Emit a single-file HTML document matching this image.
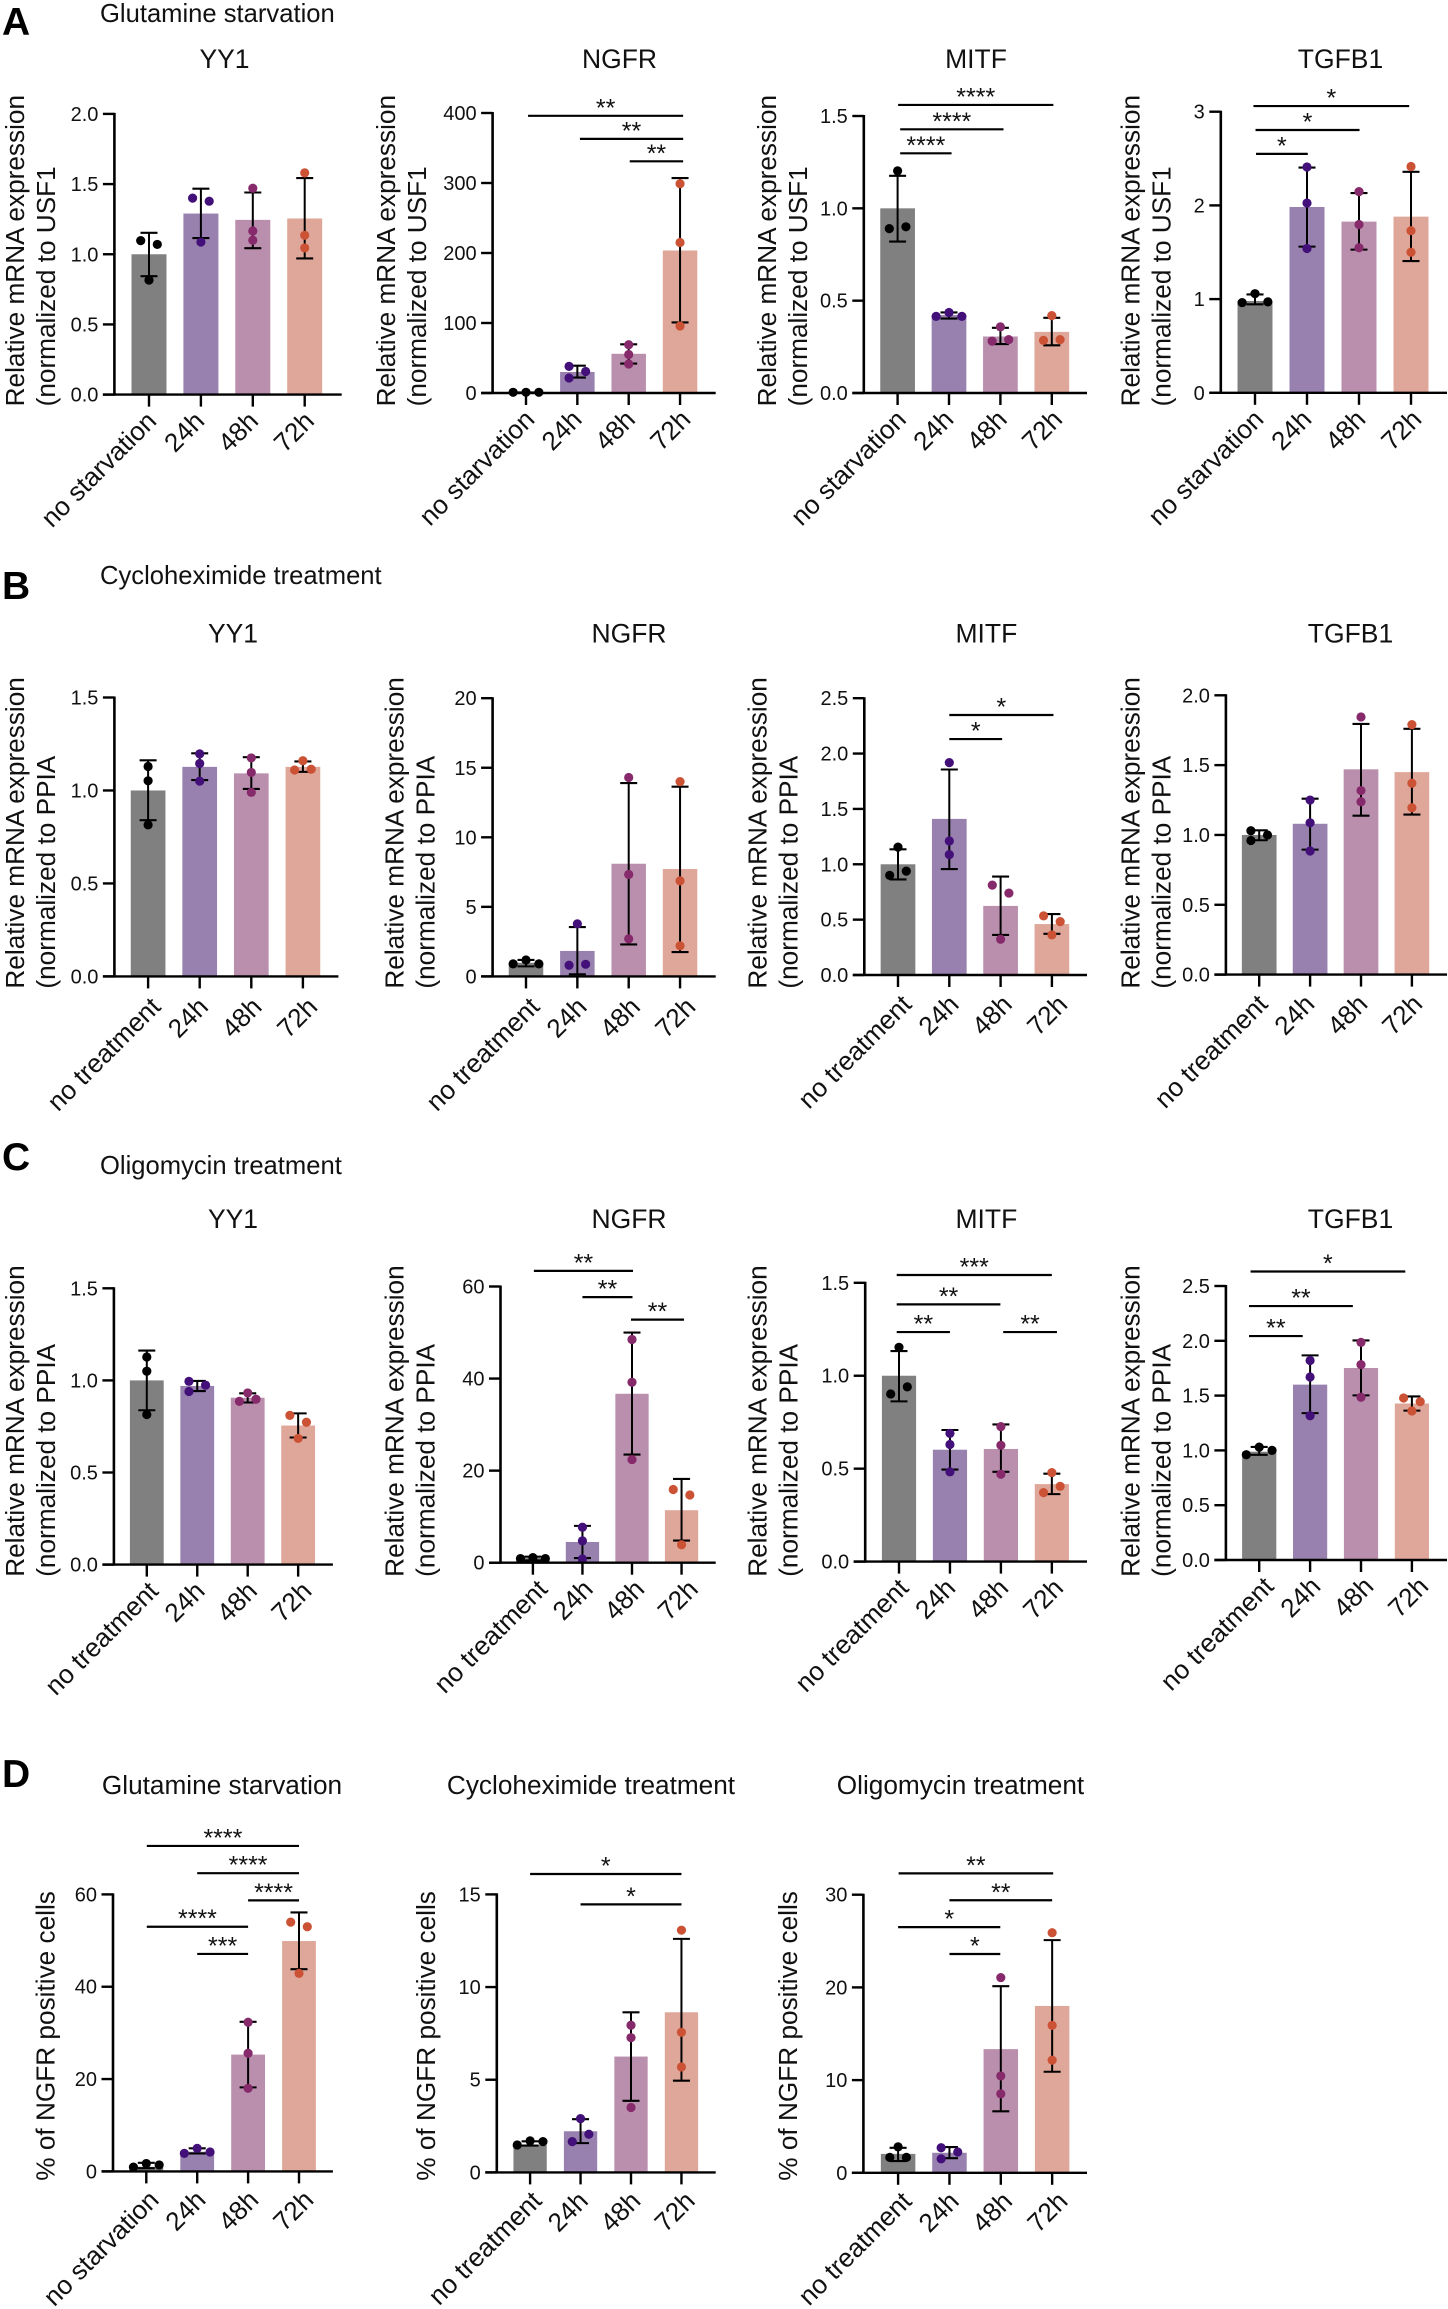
<!DOCTYPE html>
<html lang="en">
<head>
<meta charset="utf-8">
<title>Relative mRNA expression under metabolic stress</title>
<style>
html,body{margin:0;padding:0;background:#fff}
svg{display:block}
text{font-family:"Liberation Sans",Arial,sans-serif;fill:#111}
.letter{font-weight:bold;font-size:39px;fill:#000}
.section{font-size:25.6px}
</style>
</head>
<body>
<svg id="figure" xmlns="http://www.w3.org/2000/svg" width="1448" height="2309" viewBox="0 0 1448 2309">
<rect width="1448" height="2309" fill="#fff"/>
<text class="letter" x="2" y="35">A</text>
<text class="section" x="100" y="22">Glutamine starvation</text>
<text class="letter" x="2" y="599">B</text>
<text class="section" x="100" y="584">Cycloheximide treatment</text>
<text class="letter" x="2" y="1170">C</text>
<text class="section" x="100" y="1174">Oligomycin treatment</text>
<text class="letter" x="2" y="1787">D</text>
</svg>
<script>
// ---------- category labels ----------
const starvationCats = ['no starvation', '24h', '48h', '72h'];
const treatmentCats = ['no treatment', '24h', '48h', '72h'];

// ---------- A: glutamine starvation ----------
const aYY1Ticks = ['0.0', '0.5', '1.0', '1.5', '2.0'];
const aYY1Means = [1.0, 1.29, 1.245, 1.255];
const aYY1Low = [0.844, 1.115, 1.043, 0.97];
const aYY1High = [1.153, 1.467, 1.44, 1.543];
const aYY1Points = [[1.097, 0.816, 1.07], [1.40, 1.087, 1.378], [1.47, 1.166, 1.10], [1.58, 1.135, 1.045]];
const aYY1Sig = [];

const aNGFRTicks = ['0', '100', '200', '300', '400'];
const aNGFRMeans = [0.6, 30, 56, 203.6];
const aNGFRLow = [0.3, 22, 42, 100.8];
const aNGFRHigh = [0.9, 39, 69.6, 307];
const aNGFRPoints = [[1, 1, 1], [38, 21.5, 30.7], [69, 55, 41.4], [299, 215, 95.7]];
const aNGFRSig = [[0.04, 3.06, 396, '**'], [1.05, 3.06, 363, '**'], [2.02, 3.06, 331, '**']];

const aMITFTicks = ['0.0', '0.5', '1.0', '1.5'];
const aMITFMeans = [1.0, 0.422, 0.306, 0.331];
const aMITFLow = [0.82, 0.403, 0.265, 0.258];
const aMITFHigh = [1.176, 0.436, 0.353, 0.407];
const aMITFPoints = [[0.89, 1.203, 0.90], [0.415, 0.436, 0.415], [0.281, 0.358, 0.289], [0.285, 0.419, 0.289]];
const aMITFSig = [[0.01, 3.03, 1.56, '****'], [0.05, 2.06, 1.428, '****'], [0.05, 1.05, 1.298, '****']];

const aTGFB1Ticks = ['0', '1', '2', '3'];
const aTGFB1Means = [0.98, 1.983, 1.827, 1.88];
const aTGFB1Low = [0.944, 1.56, 1.528, 1.406];
const aTGFB1High = [1.05, 2.404, 2.132, 2.358];
const aTGFB1Points = [[0.963, 1.058, 0.97], [2.41, 2.025, 1.54], [2.147, 1.796, 1.548], [2.415, 1.73, 1.5]];
const aTGFB1Sig = [[-0.03, 2.965, 3.06, '*'], [0.01, 2.01, 2.805, '*'], [0.02, 1.015, 2.55, '*']];

// ---------- B: cycloheximide treatment ----------
const bYY1Ticks = ['0.0', '0.5', '1.0', '1.5'];
const bYY1Means = [1.0, 1.127, 1.092, 1.127];
const bYY1Low = [0.84, 1.056, 1.008, 1.1];
const bYY1High = [1.162, 1.2, 1.179, 1.156];
const bYY1Points = [[1.129, 1.052, 0.815], [1.197, 1.145, 1.05], [1.175, 1.097, 0.99], [1.11, 1.16, 1.114]];
const bYY1Sig = [];

const bNGFRTicks = ['0', '5', '10', '15', '20'];
const bNGFRMeans = [0.98, 1.83, 8.1, 7.72];
const bNGFRLow = [0.72, 0.15, 2.3, 1.75];
const bNGFRHigh = [1.18, 3.55, 13.9, 13.64];
const bNGFRPoints = [[0.9, 1.18, 0.9], [0.8, 3.78, 0.87], [14.3, 7.33, 2.7], [14.0, 6.87, 2.2]];
const bNGFRSig = [];

const bMITFTicks = ['0.0', '0.5', '1.0', '1.5', '2.0', '2.5'];
const bMITFMeans = [1.0, 1.41, 0.624, 0.46];
const bMITFLow = [0.863, 0.957, 0.362, 0.372];
const bMITFHigh = [1.135, 1.856, 0.889, 0.55];
const bMITFPoints = [[0.9, 1.155, 0.938], [1.918, 1.21, 1.087], [0.812, 0.323, 0.74], [0.534, 0.362, 0.482]];
const bMITFSig = [[1.0, 3.03, 2.348, '*'], [1.0, 2.03, 2.131, '*']];

const bTGFB1Ticks = ['0.0', '0.5', '1.0', '1.5', '2.0'];
const bTGFB1Means = [1.0, 1.08, 1.47, 1.45];
const bTGFB1Low = [0.962, 0.895, 1.138, 1.146];
const bTGFB1High = [1.033, 1.26, 1.795, 1.76];
const bTGFB1Points = [[1.03, 0.96, 1.0], [1.25, 1.087, 0.885], [1.845, 1.318, 1.238], [1.79, 1.37, 1.195]];
const bTGFB1Sig = [];

// ---------- C: oligomycin treatment ----------
const cYY1Ticks = ['0.0', '0.5', '1.0', '1.5'];
const cYY1Means = [1.0, 0.97, 0.906, 0.755];
const cYY1Low = [0.838, 0.942, 0.88, 0.69];
const cYY1High = [1.162, 0.997, 0.93, 0.821];
const cYY1Points = [[1.127, 1.05, 0.815], [0.995, 0.94, 0.974], [0.886, 0.932, 0.898], [0.81, 0.685, 0.773]];
const cYY1Sig = [];

const cNGFRTicks = ['0', '20', '40', '60'];
const cNGFRMeans = [1.0, 4.5, 36.7, 11.4];
const cNGFRLow = [0.5, 1.0, 23.5, 4.8];
const cNGFRHigh = [1.3, 8.0, 50.0, 18.2];
const cNGFRPoints = [[0.9, 1.1, 0.9], [7.7, 4.75, 0.8], [48.5, 39.2, 22.4], [15.9, 3.9, 14.7]];
const cNGFRSig = [[0.02, 2.02, 63.4, '**'], [1.0, 2.01, 57.7, '**'], [1.98, 3.05, 52.8, '**']];

const cMITFTicks = ['0.0', '0.5', '1.0', '1.5'];
const cMITFMeans = [1.0, 0.602, 0.606, 0.417];
const cMITFLow = [0.862, 0.495, 0.483, 0.363];
const cMITFHigh = [1.133, 0.708, 0.738, 0.473];
const cMITFPoints = [[0.902, 1.153, 0.94], [0.69, 0.63, 0.483], [0.726, 0.626, 0.47], [0.371, 0.479, 0.405]];
const cMITFSig = [[-0.045, 3.0, 1.542, '***'], [-0.045, 1.99, 1.384, '**'], [-0.045, 1.0, 1.235, '**'], [2.045, 3.1, 1.235, '**']];

const cTGFB1Ticks = ['0.0', '0.5', '1.0', '1.5', '2.0', '2.5'];
const cTGFB1Means = [0.988, 1.6, 1.752, 1.428];
const cTGFB1Low = [0.96, 1.34, 1.502, 1.363];
const cTGFB1High = [1.032, 1.867, 2.003, 1.492];
const cTGFB1Points = [[0.96, 1.03, 1.0], [1.82, 1.67, 1.316], [1.986, 1.783, 1.485], [1.478, 1.36, 1.445]];
const cTGFB1Sig = [[-0.17, 2.87, 2.632, '*'], [-0.2, 1.84, 2.317, '**'], [-0.2, 0.855, 2.043, '**']];

// ---------- D: % NGFR positive cells ----------
const dGlnTicks = ['0', '20', '40', '60'];
const dGlnMeans = [1.0, 4.26, 25.3, 49.9];
const dGlnLow = [0.7, 3.9, 18.2, 43.8];
const dGlnHigh = [1.86, 5.0, 32.4, 56.1];
const dGlnPoints = [[0.93, 1.7, 1.4], [3.9, 5.0, 4.2], [32.3, 25.6, 18.0], [54.0, 42.9, 53.0]];
const dGlnSig = [[0.01, 3.0, 70.5, '****'], [1.0, 3.0, 64.6, '****'], [2.0, 3.0, 58.7, '****'], [0.01, 2.0, 53.0, '****'], [1.0, 2.0, 47.1, '***']];

const dCHXTicks = ['0', '5', '10', '15'];
const dCHXMeans = [1.48, 2.22, 6.25, 8.64];
const dCHXLow = [1.45, 1.58, 3.86, 4.95];
const dCHXHigh = [1.68, 2.87, 8.64, 12.6];
const dCHXPoints = [[1.48, 1.7, 1.66], [1.66, 2.9, 2.06], [7.94, 7.27, 3.5], [13.07, 7.56, 5.69]];
const dCHXSig = [[0.0, 3.0, 16.1, '*'], [1.0, 3.0, 14.46, '*']];

const dOligoTicks = ['0', '10', '20', '30'];
const dOligoMeans = [2.04, 2.16, 13.34, 18.0];
const dOligoLow = [1.27, 1.58, 6.63, 10.9];
const dOligoHigh = [2.7, 2.78, 20.13, 25.1];
const dOligoPoints = [[1.66, 2.8, 1.66], [2.7, 1.5, 2.24], [21.06, 10.45, 8.52], [25.9, 15.9, 12.15]];
const dOligoSig = [[0.01, 3.02, 32.3, '**'], [1.0, 3.0, 29.4, '**'], [0.0, 1.99, 26.5, '*'], [1.0, 1.99, 23.6, '*']];

// ---------- styling and layout (not data) ----------
const barFills = ['#808080', '#9881ae', '#ba8fae', '#dfa79a'];
const dotFills = ['#000000', '#43107a', '#862a6c', '#cc5236'];
const labelShift = [0, -4, -2, 2];
const SVG_NS = 'http://www.w3.org/2000/svg';
const JITTER = 8.3;
const USF = ['Relative mRNA expression', '(normalized to USF1'];
const PPIA = ['Relative mRNA expression', '(normalized to PPIA'];
const POS = ['% of NGFR positive cells'];

const panels = [
 {key:'a-yy1',title:'YY1',tx:224.5,ty:68,ax:114.4,y0:394.6,top:113.9,end:341.7,c0:149,step:51.9,bw:35,lb:24,lbot:406.4,lab:USF,cats:starvationCats,ldx:9,ldy:28,ticks:aYY1Ticks,means:aYY1Means,low:aYY1Low,high:aYY1High,pts:aYY1Points,sig:aYY1Sig,
  jit:[[-1,0,1],[-1,0,1],[0,0,0],[0,0,0]]},
 {key:'a-ngfr',title:'NGFR',tx:619.5,ty:68,ax:492.6,y0:393,top:113,end:715.7,c0:526,step:51.35,bw:34.5,lb:395,lbot:406.4,lab:USF,cats:starvationCats,ldx:10,ldy:28,ticks:aNGFRTicks,means:aNGFRMeans,low:aNGFRLow,high:aNGFRHigh,pts:aNGFRPoints,sig:aNGFRSig,
  jit:[[-1.55,0,1.55],[-1,-1,1],[0,0,0],[0,0,0]]},
 {key:'a-mitf',title:'MITF',tx:976,ty:68,ax:863.8,y0:393,top:116,end:1087,c0:897.6,step:51.4,bw:34.7,lb:776,lbot:406.4,lab:USF,cats:starvationCats,ldx:10,ldy:28,ticks:aMITFTicks,means:aMITFMeans,low:aMITFLow,high:aMITFHigh,pts:aMITFPoints,sig:aMITFSig,
  jit:[[-1,0,1],[-1.55,0,1.55],[-1,0,1],[-1,0,1]]},
 {key:'a-tgfb1',title:'TGFB1',tx:1340.5,ty:68,ax:1220.8,y0:392.8,top:111.7,end:1447,c0:1255,step:52,bw:35,lb:1139.7,lbot:406.4,lab:USF,cats:starvationCats,ldx:10,ldy:28,ticks:aTGFB1Ticks,means:aTGFB1Means,low:aTGFB1Low,high:aTGFB1High,pts:aTGFB1Points,sig:aTGFB1Sig,
  jit:[[-1.55,0,1.55],[0,0,0],[0,0,0],[0,0,0]]},

 {key:'b-yy1',title:'YY1',tx:233,ty:642.3,ax:114.4,y0:976.4,top:697.5,end:338.4,c0:148.1,step:51.6,bw:34.7,lb:24,lbot:988.6,lab:PPIA,cats:treatmentCats,ldx:14,ldy:32,ticks:bYY1Ticks,means:bYY1Means,low:bYY1Low,high:bYY1High,pts:bYY1Points,sig:bYY1Sig,
  jit:[[0,0,0],[0,0,0],[0,0,0],[-1,0,1]]},
 {key:'b-ngfr',title:'NGFR',tx:629,ty:642.3,ax:492.6,y0:976.4,top:698.2,end:715.7,c0:526,step:51.35,bw:34.5,lb:403.7,lbot:988.6,lab:PPIA,cats:treatmentCats,ldx:15,ldy:32,ticks:bNGFRTicks,means:bNGFRMeans,low:bNGFRLow,high:bNGFRHigh,pts:bNGFRPoints,sig:bNGFRSig,
  jit:[[-1.55,0,1.55],[-1,0,1],[0,0,0],[0,0,0]]},
 {key:'b-mitf',title:'MITF',tx:986.4,ty:642.3,ax:864.3,y0:975,top:698.2,end:1087,c0:898,step:51.3,bw:34.7,lb:766.6,lbot:988.6,lab:PPIA,cats:treatmentCats,ldx:15,ldy:31,ticks:bMITFTicks,means:bMITFMeans,low:bMITFLow,high:bMITFHigh,pts:bMITFPoints,sig:bMITFSig,
  jit:[[-1,0,1],[0,0,0],[-1,0,1],[-1,0,1]]},
 {key:'b-tgfb1',title:'TGFB1',tx:1350.5,ty:642.3,ax:1225.9,y0:974.6,top:695.3,end:1447,c0:1259.2,step:50.9,bw:34.7,lb:1139.7,lbot:988.6,lab:PPIA,cats:treatmentCats,ldx:10,ldy:31,ticks:bTGFB1Ticks,means:bTGFB1Means,low:bTGFB1Low,high:bTGFB1High,pts:bTGFB1Points,sig:bTGFB1Sig,
  jit:[[-1,-1,1],[0,0,0],[0,0,0],[0,0,0]]},

 {key:'c-yy1',title:'YY1',tx:233,ty:1228,ax:113.9,y0:1564.6,top:1288.3,end:332.9,c0:146.8,step:50.45,bw:33.8,lb:24,lbot:1576.8,lab:PPIA,cats:treatmentCats,ldx:13,ldy:28,ticks:cYY1Ticks,means:cYY1Means,low:cYY1Low,high:cYY1High,pts:cYY1Points,sig:cYY1Sig,
  jit:[[0,0,0],[-1,-1,1],[-1,0,1],[-1,0,1]]},
 {key:'c-ngfr',title:'NGFR',tx:629,ty:1228,ax:500.5,y0:1562.7,top:1286.5,end:715.7,c0:532.9,step:49.55,bw:33.3,lb:403.7,lbot:1576.8,lab:PPIA,cats:treatmentCats,ldx:16,ldy:28,ticks:cNGFRTicks,means:cNGFRMeans,low:cNGFRLow,high:cNGFRHigh,pts:cNGFRPoints,sig:cNGFRSig,
  jit:[[-1.5,0,1.5],[0,0,0],[0,0,0],[-1,0,1]]},
 {key:'c-mitf',title:'MITF',tx:986.4,ty:1228,ax:865.2,y0:1561.6,top:1282.8,end:1087,c0:899,step:50.95,bw:34.2,lb:766.6,lbot:1576.8,lab:PPIA,cats:treatmentCats,ldx:11,ldy:28,ticks:cMITFTicks,means:cMITFMeans,low:cMITFLow,high:cMITFHigh,pts:cMITFPoints,sig:cMITFSig,
  jit:[[-1,0,1],[0,0,0],[0,0,0],[-1,0,1]]},
 {key:'c-tgfb1',title:'TGFB1',tx:1350.5,ty:1228,ax:1225.9,y0:1560,top:1286,end:1447,c0:1259.2,step:50.9,bw:34.2,lb:1139.7,lbot:1576.8,lab:PPIA,cats:treatmentCats,ldx:16,ldy:28,ticks:cTGFB1Ticks,means:cTGFB1Means,low:cTGFB1Low,high:cTGFB1High,pts:cTGFB1Points,sig:cTGFB1Sig,
  jit:[[-1.55,0,1.55],[0,0,0],[0,0,0],[-1,0,1]]},

 {key:'d-gln',title:'Glutamine starvation',tx:222,ty:1794,ax:113,y0:2171.4,top:1894.4,end:332.9,c0:146.3,step:50.9,bw:33.8,lb:54.6,lbot:2180.7,lab:POS,cats:starvationCats,ldx:14,ldy:30,ticks:dGlnTicks,means:dGlnMeans,low:dGlnLow,high:dGlnHigh,pts:dGlnPoints,sig:dGlnSig,
  jit:[[-1.55,0,1.55],[-1.55,0,1.55],[0,0,0],[-1,0,1]]},
 {key:'d-chx',title:'Cycloheximide treatment',tx:591,ty:1794,ax:496.8,y0:2172.4,top:1894.4,end:715.7,c0:530.1,step:50.45,bw:33.3,lb:435,lbot:2180.7,lab:POS,cats:treatmentCats,ldx:13,ldy:30,ticks:dCHXTicks,means:dCHXMeans,low:dCHXLow,high:dCHXHigh,pts:dCHXPoints,sig:dCHXSig,
  jit:[[-1.55,0,1.55],[-1,0,1],[0,0,0],[0,0,0]]},
 {key:'d-oligo',title:'Oligomycin treatment',tx:960.5,ty:1794,ax:863.4,y0:2172.8,top:1894.7,end:1087,c0:898.1,step:51.35,bw:34.5,lb:797,lbot:2180.7,lab:POS,cats:treatmentCats,ldx:15,ldy:30,ticks:dOligoTicks,means:dOligoMeans,low:dOligoLow,high:dOligoHigh,pts:dOligoPoints,sig:dOligoSig,
  jit:[[-1,0,1],[-1,-1,1],[0,0,0],[0,0,0]]}
];

const figure = document.getElementById('figure');

function make(parent, tag, attrs, content) {
  const node = document.createElementNS(SVG_NS, tag);
  Object.keys(attrs).forEach(function (k) { node.setAttribute(k, attrs[k]); });
  if (content !== undefined) node.textContent = content;
  parent.appendChild(node);
  return node;
}

function drawPanel(p) {
  const maxVal = Number(p.ticks[p.ticks.length - 1]);
  const yScale = function (v) { return p.y0 - (v / maxVal) * (p.y0 - p.top); };
  const xScale = function (i) { return p.c0 + i * p.step; };

  const g = make(figure, 'g', {});
  
  

  const title = make(g, 'text', {x: p.tx, y: p.ty, 'text-anchor': 'middle', 'font-size': p.title.length > 6 ? 26.2 : 26.5}, p.title);
  
  

  p.lab.forEach(function (line, li) {
    const bx = p.lb + li * 31;
    const yl = make(g, 'text', {x: bx, y: p.lbot, 'font-size': 26.2, transform: 'rotate(-90 ' + bx + ' ' + p.lbot + ')'}, line);
    
    
  });

  p.means.forEach(function (m, i) {
    const bar = make(g, 'rect', {x: xScale(i) - p.bw / 2, y: yScale(m), width: p.bw, height: p.y0 - yScale(m), fill: barFills[i]});
    
    
  });

  p.means.forEach(function (m, i) {
    const cx = xScale(i);
    const stem = make(g, 'line', {x1: cx, x2: cx, y1: yScale(p.high[i]), y2: yScale(p.low[i]), stroke: '#000', 'stroke-width': 2});
    
    
    const capHigh = make(g, 'line', {x1: cx - 8.5, x2: cx + 8.5, y1: yScale(p.high[i]), y2: yScale(p.high[i]), stroke: '#000', 'stroke-width': 2.1});
    
    
    const capLow = make(g, 'line', {x1: cx - 8.5, x2: cx + 8.5, y1: yScale(p.low[i]), y2: yScale(p.low[i]), stroke: '#000', 'stroke-width': 2.1});
    
    
  });

  p.pts.forEach(function (vals, i) {
    vals.forEach(function (v, j) {
      const dot = make(g, 'circle', {cx: xScale(i) + p.jit[i][j] * JITTER, cy: yScale(v), r: 4.6, fill: dotFills[i]});
      
      
    });
  });

  const yAxis = make(g, 'line', {x1: p.ax, x2: p.ax, y1: p.top - 1, y2: p.y0 + 1, stroke: '#000', 'stroke-width': 2.6});
  
  
  const xAxis = make(g, 'line', {x1: p.ax - 11.5, x2: p.end, y1: p.y0, y2: p.y0, stroke: '#000', 'stroke-width': 2.4});
  
  

  p.ticks.forEach(function (t) {
    const ty = yScale(Number(t));
    const tick = make(g, 'line', {x1: p.ax - 11.5, x2: p.ax, y1: ty, y2: ty, stroke: '#000', 'stroke-width': 2.4});
    
    
    const lbl = make(g, 'text', {x: p.ax - 16, y: ty + 7, 'text-anchor': 'end', 'font-size': 20}, t);
    
    
  });

  p.cats.forEach(function (c, i) {
    const cx = xScale(i);
    const tick = make(g, 'line', {x1: cx, x2: cx, y1: p.y0, y2: p.y0 + 12, stroke: '#000', 'stroke-width': 2.4});
    
    
    const lx = cx + p.ldx + labelShift[i];
    const ly = p.y0 + p.ldy;
    const lbl = make(g, 'text', {x: lx, y: ly, 'text-anchor': 'end', 'font-size': 26.2, transform: 'rotate(-45 ' + lx + ' ' + ly + ')'}, c);
    
    
  });

  p.sig.forEach(function (s) {
    const x1 = xScale(s[0]);
    const x2 = xScale(s[1]);
    const sy = yScale(s[2]);
    const bracket = make(g, 'line', {x1: x1, x2: x2, y1: sy, y2: sy, stroke: '#000', 'stroke-width': 2.2});
    
    
    const star = make(g, 'text', {x: (x1 + x2) / 2, y: sy + 0.5, 'text-anchor': 'middle', 'font-size': 25}, s[3]);
    
    
  });
}

panels.forEach(drawPanel);
</script>
</body>
</html>
